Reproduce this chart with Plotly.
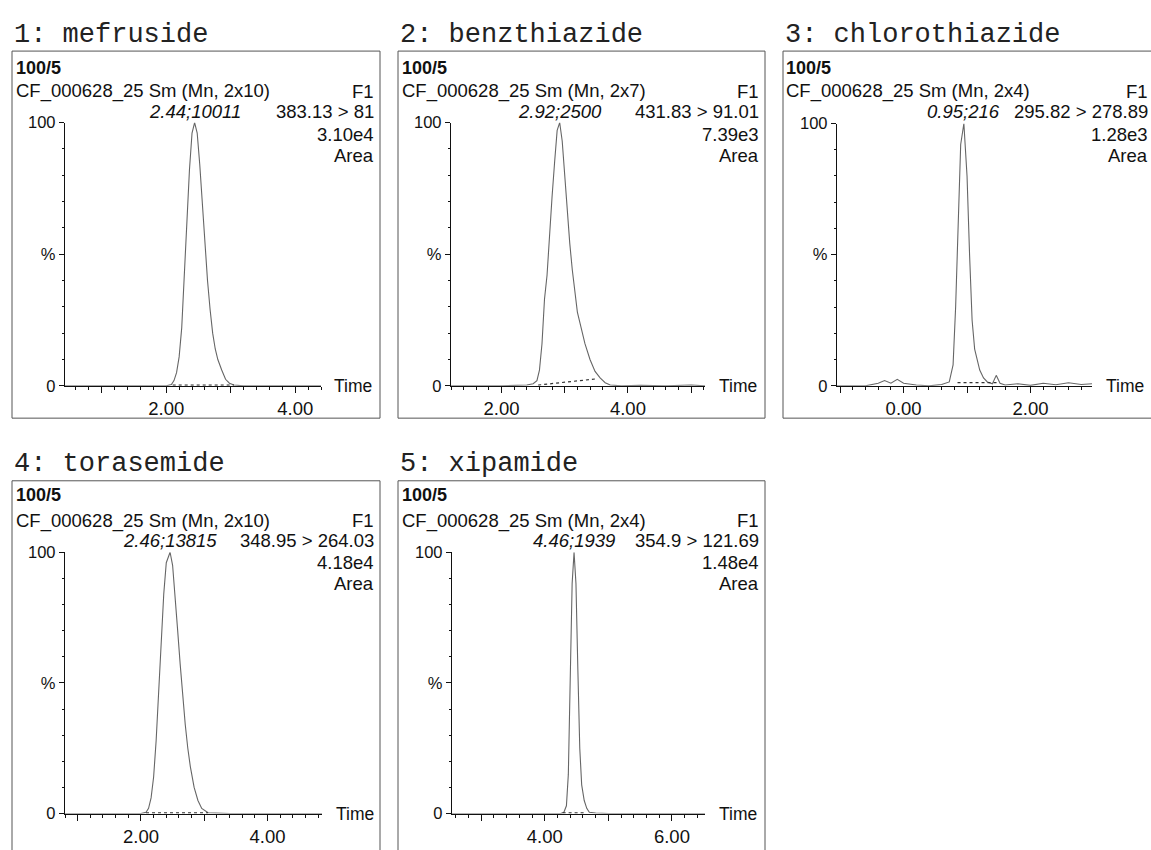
import plotly.graph_objects as go

W, H = 1151, 850

# ---------------- data ----------------
titles = ["1: mefruside", "2: benzthiazide", "3: chlorothiazide", "4: torasemide", "5: xipamide"]
functions = ["CF_000628_25 Sm (Mn, 2x10)", "CF_000628_25 Sm (Mn, 2x7)", "CF_000628_25 Sm (Mn, 2x4)",
             "CF_000628_25 Sm (Mn, 2x10)", "CF_000628_25 Sm (Mn, 2x4)"]
peak_labels = ["2.44;10011", "2.92;2500", "0.95;216", "2.46;13815", "4.46;1939"]
peak_times = [2.44, 2.92, 0.95, 2.46, 4.46]
transitions = ["383.13 > 81", "431.83 > 91.01", "295.82 > 278.89", "348.95 > 264.03", "354.9 > 121.69"]
intensities = ["3.10e4", "7.39e3", "1.28e3", "4.18e4", "1.48e4"]

# chromatograms (time in min, relative intensity %)
t1 = [0.43, 1.0, 1.5, 2.0, 2.08, 2.12, 2.16, 2.20, 2.24, 2.28, 2.32, 2.36, 2.40, 2.44, 2.48, 2.52,
      2.56, 2.60, 2.64, 2.68, 2.72, 2.76, 2.80, 2.86, 2.92, 2.98, 3.05, 3.2, 3.6, 4.0, 4.4]
y1 = [0, 0, 0, 0, 0.5, 2, 5, 11, 22, 40, 62, 82, 96, 100, 96, 84,
      68, 53, 40, 29, 20, 14, 10, 6, 2.5, 1, 0.3, 0, 0, 0, 0]

t2 = [1.2, 2.0, 2.4, 2.5, 2.56, 2.60, 2.64, 2.68, 2.72, 2.76, 2.80, 2.84, 2.88, 2.92, 2.96, 3.00,
      3.04, 3.08, 3.12, 3.16, 3.20, 3.26, 3.32, 3.40, 3.48, 3.56, 3.64, 3.72, 3.9, 4.2, 4.6, 5.0, 5.22]
y2 = [0, 0, 0.3, 0.8, 2, 6, 16, 33, 42, 58, 72, 85, 97, 100, 93, 80,
      66, 54, 44, 35, 28, 22, 16, 10, 5.5, 3, 1.2, 0.3, 0, 0.2, 0, 0.3, 0]

t3 = [-1.05, -0.6, -0.4, -0.3, -0.2, -0.1, 0.0, 0.2, 0.4, 0.6, 0.72, 0.78, 0.82, 0.86, 0.90, 0.95,
      1.00, 1.04, 1.08, 1.12, 1.16, 1.20, 1.26, 1.32, 1.40, 1.46, 1.52, 1.6, 1.8, 2.0, 2.2, 2.4, 2.6, 2.8, 2.97]
y3 = [0, 0, 1.0, 2.0, 1.0, 2.5, 1.0, 0.3, 0, 0.5, 1.5, 8, 30, 65, 92, 100,
      80, 50, 25, 14, 10, 6, 3, 1.5, 0.8, 4, 1, 0.3, 0.8, 0.2, 1.0, 0.4, 1.2, 0.5, 0.8]

t4 = [0.8, 1.4, 2.0, 2.08, 2.12, 2.16, 2.20, 2.24, 2.28, 2.32, 2.36, 2.40, 2.46, 2.50, 2.54, 2.58,
      2.62, 2.66, 2.70, 2.74, 2.78, 2.84, 2.90, 2.96, 3.06, 3.4, 4.0, 4.86]
y4 = [0, 0, 0, 0.5, 2, 6, 14, 28, 46, 66, 84, 96, 100, 95, 84, 70,
      57, 45, 34, 25, 18, 10, 5, 2, 0.3, 0, 0, 0]

t5 = [2.54, 3.0, 3.5, 4.0, 4.25, 4.30, 4.34, 4.37, 4.40, 4.43, 4.46, 4.49, 4.52, 4.55, 4.58, 4.62,
      4.66, 4.70, 4.8, 5.0, 5.5, 6.0, 6.52]
y5 = [0, 0, 0, 0, 0, 0.5, 3, 15, 50, 88, 100, 88, 55, 25, 11, 5,
      2, 0.5, 0.2, 0, 0, 0, 0]

# integration baselines
bt1, by1 = [2.10, 3.05], [0.3, 0.3]
bt2, by2 = [2.58, 3.52], [0.3, 2.7]
bt3, by3 = [0.85, 1.50], [1.2, 1.2]
bt4, by4 = [2.08, 3.06], [0.3, 0.3]
bt5, by5 = [4.28, 4.62], [0.3, 0.3]

# x-axis major ticks and labels
major_ticks = [[1, 2, 3, 4], [2, 3, 4, 5], [-1, 0, 1, 2], [1, 2, 3, 4], [3, 4, 5, 6]]
major_text = [["", "2.00", "", "4.00"], ["2.00", "", "4.00", ""], ["", "0.00", "", "2.00"],
              ["", "2.00", "", "4.00"], ["", "4.00", "", "6.00"]]
x_ranges = [[0.43, 4.4], [1.2, 5.22], [-1.05, 2.97], [0.8, 4.86], [2.54, 6.52]]

series_t = [t1, t2, t3, t4, t5]
series_y = [y1, y2, y3, y4, y5]
base_t = [bt1, bt2, bt3, bt4, bt5]
base_y = [by1, by2, by3, by4, by5]

# ---------------- layout geometry (pixels) ----------------
geom = [
    dict(frame=(12, 43, 380, 418), xd=(65, 321), yd=(116, 385), left=15, right=375, title_y=27,
         rows=(60, 84, 105, 128, 150), time_x=333),
    dict(frame=(398, 43, 765, 418), xd=(451, 705), yd=(116, 385), left=401, right=760, title_y=27,
         rows=(60, 84, 105, 128, 150), time_x=718),
    dict(frame=(783, 43, 1165, 418), xd=(837, 1092), yd=(117, 385), left=785, right=1149, title_y=27,
         rows=(60, 84, 105, 128, 150), time_x=1105),
    dict(frame=(12, 482, 380, 870), xd=(65, 322), yd=(555, 822), left=15, right=375, title_y=465,
         rows=(497, 523, 543, 565, 587), time_x=335),
    dict(frame=(398, 482, 765, 870), xd=(452, 705), yd=(555, 822), left=401, right=760, title_y=465,
         rows=(497, 523, 543, 565, 587), time_x=718),
]


def px(x):
    return x / W


def py(y):
    return 1 - y / H


SANS = "Liberation Sans"
MONO = "Liberation Mono"

fig = go.Figure()
layout = dict(
    width=W, height=H, autosize=False,
    margin=dict(l=0, r=0, t=0, b=0),
    paper_bgcolor="white", plot_bgcolor="white",
    showlegend=False,
    font=dict(family=SANS, color="#111", size=17),
)
annotations = []
shapes = []

for i, g in enumerate(geom):
    n = i + 1
    xa = "x" if n == 1 else f"x{n}"
    ya = "y" if n == 1 else f"y{n}"
    xkey = "xaxis" if n == 1 else f"xaxis{n}"
    ykey = "yaxis" if n == 1 else f"yaxis{n}"

    fig.add_trace(go.Scatter(x=series_t[i], y=series_y[i], mode="lines", xaxis=xa, yaxis=ya,
                             line=dict(color="#666", width=1.1), hoverinfo="skip"))
    fig.add_trace(go.Scatter(x=base_t[i], y=base_y[i], mode="lines", xaxis=xa, yaxis=ya,
                             line=dict(color="#333", width=1.2, dash="dot"), hoverinfo="skip"))

    layout[xkey] = dict(
        domain=[px(g["xd"][0]), px(g["xd"][1])], anchor=ya, range=x_ranges[i],
        showline=True, linecolor="#111", linewidth=1.2, showgrid=False, zeroline=False,
        tickmode="array", tickvals=major_ticks[i], ticktext=major_text[i],
        ticks="outside", ticklen=6, tickcolor="#111", tickwidth=1,
        tickfont=dict(family=SANS, size=18.5, color="#111"),
        minor=dict(dtick=0.2, tick0=0, ticks="outside", ticklen=3, tickcolor="#111", showgrid=False),
        fixedrange=True,
    )
    layout[ykey] = dict(
        domain=[py(g["yd"][1]), py(g["yd"][0])], anchor=xa, range=[0, 100],
        showline=True, linecolor="#111", linewidth=1.2, showgrid=False, zeroline=False,
        tickmode="array", tickvals=[0, 50, 100], ticktext=["0", "%", "100"],
        ticks="outside", ticklen=5, tickcolor="#111",
        tickfont=dict(family=SANS, size=16.5, color="#111"),
        minor=dict(dtick=10, tick0=0, ticks="outside", ticklen=2, tickcolor="#111", showgrid=False),
        fixedrange=True,
    )

    x0, y0, x1, y1_ = g["frame"]
    shapes.append(dict(type="rect", xref="paper", yref="paper",
                       x0=px(x0), x1=px(x1), y0=py(y1_), y1=py(y0),
                       line=dict(color="#555", width=1)))

    r = g["rows"]
    annotations += [
        dict(text=titles[i], x=px(x0 + 1), y=py(g["title_y"]), xanchor="left", yanchor="middle",
             font=dict(family=MONO, size=27, color="#222")),
        dict(text="<b>100/5</b>", x=px(g["left"]), y=py(r[0]), xanchor="left", yanchor="middle",
             font=dict(family=SANS, size=18, color="#111")),
        dict(text=functions[i], x=px(g["left"]), y=py(r[1]), xanchor="left", yanchor="middle",
             font=dict(family=SANS, size=18.5, color="#111")),
        dict(text="F1", x=px(g["right"]), y=py(r[1]), xanchor="right", yanchor="middle",
             font=dict(family=SANS, size=18.5, color="#111")),
        dict(text=transitions[i], x=px(g["right"]), y=py(r[2]), xanchor="right", yanchor="middle",
             font=dict(family=SANS, size=18.5, color="#111")),
        dict(text=intensities[i], x=px(g["right"]), y=py(r[3]), xanchor="right", yanchor="middle",
             font=dict(family=SANS, size=18.5, color="#111")),
        dict(text="Area", x=px(g["right"]), y=py(r[4]), xanchor="right", yanchor="middle",
             font=dict(family=SANS, size=18.5, color="#111")),
        dict(text="<i>" + peak_labels[i] + "</i>", x=peak_times[i], xref=xa, y=py(r[2]), yref="paper",
             xanchor="center", yanchor="middle", font=dict(family=SANS, size=18.5, color="#111")),
        dict(text="Time", x=px(g["time_x"]), y=py(g["yd"][1]), xanchor="left", yanchor="middle",
             font=dict(family=SANS, size=17.5, color="#111")),
    ]

for a in annotations:
    a.setdefault("xref", "paper")
    a.setdefault("yref", "paper")
    a["showarrow"] = False
    a["borderpad"] = 0

layout["annotations"] = annotations
layout["shapes"] = shapes
fig.update_layout(**layout)

fig.write_html("out.html", config={"displayModeBar": False, "staticPlot": True},
               post_script="document.body.style.margin='0';")
